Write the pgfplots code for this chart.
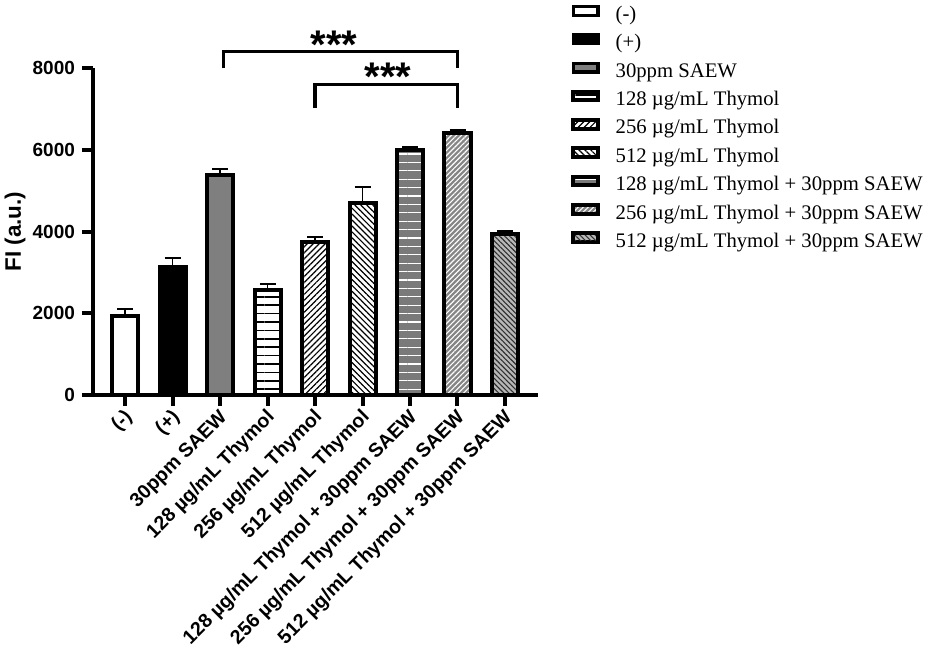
\documentclass[border=0pt]{standalone}
\usepackage{fontspec}
\setmainfont{Liberation Sans}
\newfontfamily\legendfont{Liberation Serif}
\usepackage{pgfplots}
\pgfplotsset{compat=1.18}
\usetikzlibrary{patterns.meta,calc}
\definecolor{gA}{HTML}{7F7F7F}
\definecolor{gB}{HTML}{7A7A7A}
\definecolor{gC}{HTML}{858585}
\definecolor{gD}{HTML}{B8B8B8}
\definecolor{gE}{HTML}{303030}
\pgfplotsset{
  mybar/.style={ybar, bar width=13pt, draw=black, line width=2pt,
    error bars/y dir=plus, error bars/y explicit,
    error bars/error bar style={line width=0.85pt, black},
    error bars/error mark options={rotate=90, mark size=4pt, line width=0.85pt, black}},
}
\begin{document}
\begin{tikzpicture}
\begin{axis}[
  scale only axis, width=222.5pt, height=163.35pt,
  xmin=-0.674, xmax=8.695, ymin=0, ymax=8000,
  axis x line*=bottom, axis y line*=left,
  axis line style={line width=2pt, -},
  every tick/.style={line width=2pt, black},
  major tick length=5.5pt, tick align=outside,
  ytick={0,2000,4000,6000,8000},
  xtick={0,1,2,3,4,5,6,7,8},
  xticklabels={(-),(+),30ppm SAEW,128 µg/mL Thymol,256 µg/mL Thymol,512 µg/mL Thymol,128 µg/mL Thymol + 30ppm SAEW,256 µg/mL Thymol + 30ppm SAEW,512 µg/mL Thymol + 30ppm SAEW},
  /pgf/number format/assume math mode=true,
  scaled y ticks=false,
  y tick label style={font=\fontsize{9.5}{10}\selectfont\bfseries, /pgf/number format/1000 sep={}},
  x tick label style={font=\fontsize{9.8}{11}\selectfont\bfseries, rotate=45, anchor=east, xshift=2pt, yshift=-4.5pt},
  ylabel={FI (a.u.)},
  every axis y label/.style={at={(axis description cs:-0.175,0.5)}, rotate=90, anchor=center,
    font=\fontsize{11.2}{12}\selectfont\bfseries},
  clip=false,
  legend image code/.code={\draw[#1, line width=1.65pt] (0pt,0.2pt) rectangle (12.35pt,4.55pt);},
  legend style={at={(axis description cs:1.0757,1.1937)}, anchor=north west,
    draw=none, fill=none, inner sep=0pt, outer sep=0pt,
    font=\legendfont\fontsize{10.35}{12}\selectfont,
    row sep=4.0pt, column sep=8pt,
    nodes={inner sep=0pt, text height=7.2pt, text depth=2.4pt}},
  legend cell align=left,
]
\coordinate (O) at (axis cs:-0.674,0);
\addplot[mybar, fill=white] coordinates {(0,1930) +- (0,175)};
\addplot[mybar, fill=black] coordinates {(1,3130) +- (0,232)};
\addplot[mybar, fill=gA] coordinates {(2,5390) +- (0,144)};
\addplot[mybar, preaction={fill=white}, pattern={Lines[angle=0,distance=4.2pt,line width=0.8pt]}, pattern color=black] coordinates {(3,2560) +- (0,165)};
\addplot[mybar, preaction={fill=white}, pattern={Lines[angle=45,distance=2.1pt,line width=0.6pt]}, pattern color=black] coordinates {(4,3750) +- (0,119)};
\addplot[mybar, preaction={fill=white}, pattern={Lines[angle=-45,distance=2.1pt,line width=0.6pt]}, pattern color=black] coordinates {(5,4700) +- (0,386)};
\addplot[mybar, preaction={fill=gB}, pattern={Lines[angle=0,distance=4.2pt,line width=0.55pt]}, pattern color=white] coordinates {(6,5990) +- (0,90)};
\addplot[mybar, preaction={fill=gC}, pattern={Lines[angle=45,distance=1.8pt,line width=0.55pt]}, pattern color=white] coordinates {(7,6410) +- (0,80)};
\addplot[mybar, preaction={fill=gD}, pattern={Lines[angle=-45,distance=1.8pt,line width=0.55pt]}, pattern color=gE] coordinates {(8,3950) +- (0,66)};
\addplot[forget plot, line width=1.65pt, black, mark=none] coordinates {(2.08,8000) (2.08,8420) (7,8420) (7,8000)};
\addplot[forget plot, line width=1.65pt, black, mark=none] coordinates {(4,7024) (4,7610) (7,7610) (7,7024)};
\node[font=\fontsize{20}{20}\selectfont\bfseries, anchor=base, inner sep=0pt] at (axis cs:4.4,8250) {***};
\node[font=\fontsize{20}{20}\selectfont\bfseries, anchor=base, inner sep=0pt] at (axis cs:5.54,7445) {***};
\legend{(-),(+),30ppm SAEW,128 µg/mL Thymol,256 µg/mL Thymol,512 µg/mL Thymol,128 µg/mL Thymol + 30ppm SAEW,256 µg/mL Thymol + 30ppm SAEW,512 µg/mL Thymol + 30ppm SAEW}
\end{axis}
\pgfresetboundingbox
\useasboundingbox ($(O)+(-46.5pt,-131.5pt)$) rectangle ($(O)+(421.5pt,197.5pt)$);
\end{tikzpicture}
\end{document}
